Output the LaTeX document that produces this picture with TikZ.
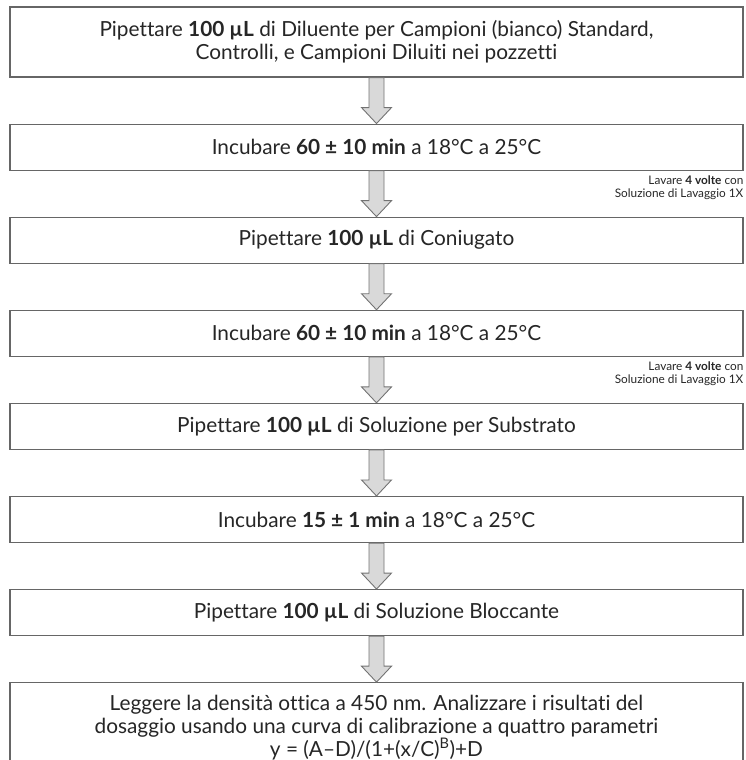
\documentclass[tikz,border=0pt]{standalone}
\usepackage{fontspec}
\setmainfont{Lato}[Ligatures=NoCommon]
\usetikzlibrary{positioning, calc}

% block arrow from the bottom of one box to the top of the next
\newcommand{\flowarrow}[2]{%
  \draw[flow] ([xshift=-7.5pt]#1.south) -- ([xshift=-7.5pt,yshift=16pt]#2.north)
    -- ([xshift=-15pt,yshift=16pt]#2.north) -- (#2.north)
    -- ([xshift=15pt,yshift=16pt]#2.north) -- ([xshift=7.5pt,yshift=16pt]#2.north)
    -- ([xshift=7.5pt]#1.south) -- cycle;}

\begin{document}
\begin{tikzpicture}[
    x=1pt, y=1pt,
    node distance=46pt,
    box/.style={
        rectangle,
        draw=black!60,
        line width=1.1pt,
        fill=white,
        align=center,
        minimum width=733pt,
        minimum height=46pt,
        inner sep=0pt,
        text=black!85,
        font=\fontsize{20.8}{23}\selectfont
    },
    note/.style={
        align=right,
        inner sep=0pt,
        text=black!85,
        font=\fontsize{11.8}{13}\selectfont
    },
    flow/.style={
        draw=black!55,
        fill=black!15,
        line width=0.9pt
    }
]
\path[use as bounding box, clip] (0,0) rectangle (746,-760);

\node[box, minimum height=70pt] (diluent) at (376.5,-42)
{Pipettare \textbf{100 µL} di Diluente per Campioni (bianco) Standard,\\Controlli, e Campioni Diluiti nei pozzetti};

\node[box, below=of diluent] (incub1)
{Incubare \textbf{60 ± 10 min} a 18°C a 25°C};

\node[box, below=of incub1] (conj)
{Pipettare \textbf{100 µL} di Coniugato};

\node[box, below=of conj] (incub2)
{Incubare \textbf{60 ± 10 min} a 18°C a 25°C};

\node[box, below=of incub2] (substr)
{Pipettare \textbf{100 µL} di Soluzione per Substrato};

\node[box, below=of substr] (incub3)
{Incubare \textbf{15 ± 1 min} a 18°C a 25°C};

\node[box, below=of incub3] (stop)
{Pipettare \textbf{100 µL} di Soluzione Bloccante};

\node[box, below=of stop, minimum height=89pt] (read)
{Leggere la densità ottica a 450 nm. Analizzare i risultati del\\dosaggio usando una curva di calibrazione a quattro parametri\\y = (A–D)/(1+(x/C)\textsuperscript{B})+D};

% wash steps
\node[note, below left=5pt and 0pt of incub1.south east] (wash1)
{Lavare \textbf{4 volte} con\\Soluzione di Lavaggio 1X};

\node[note, below left=5pt and 0pt of incub2.south east] (wash2)
{Lavare \textbf{4 volte} con\\Soluzione di Lavaggio 1X};

\flowarrow{diluent}{incub1}
\flowarrow{incub1}{conj}
\flowarrow{conj}{incub2}
\flowarrow{incub2}{substr}
\flowarrow{substr}{incub3}
\flowarrow{incub3}{stop}
\flowarrow{stop}{read}
\end{tikzpicture}
\end{document}
